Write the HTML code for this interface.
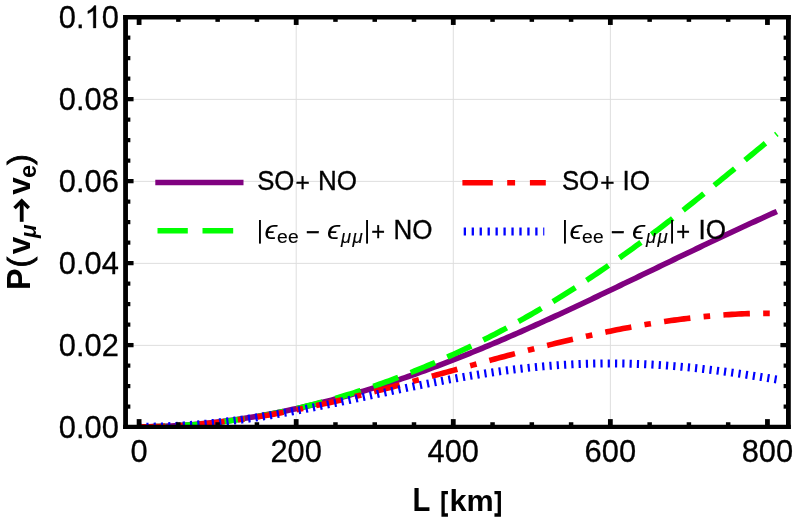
<!DOCTYPE html>
<html><head><meta charset="utf-8"><title>Plot</title>
<style>html,body{margin:0;padding:0;background:#fff}svg{display:block}text{font-family:"Liberation Sans",sans-serif;fill:#000}</style></head>
<body>
<svg width="793" height="518" viewBox="0 0 793 518">
<rect width="793" height="518" fill="#fff"/>
<g style="opacity:0.999">
<defs><clipPath id="cp"><rect x="125.56" y="17.28" width="662.8399999999999" height="409.52"/></clipPath></defs>
<g stroke="#dedede" stroke-width="1" fill="none">
<line x1="296.19" y1="17.28" x2="296.19" y2="426.8"/>
<line x1="453.28" y1="17.28" x2="453.28" y2="426.8"/>
<line x1="610.36" y1="17.28" x2="610.36" y2="426.8"/>
<line x1="125.56" y1="345.36" x2="788.4" y2="345.36"/>
<line x1="125.56" y1="263.37" x2="788.4" y2="263.37"/>
<line x1="125.56" y1="181.38" x2="788.4" y2="181.38"/>
<line x1="125.56" y1="99.39" x2="788.4" y2="99.39"/>
</g>
<g clip-path="url(#cp)" fill="none" stroke-linejoin="round">
<path d="M139.10,426.80 L142.30,426.79 L145.51,426.77 L148.71,426.72 L151.92,426.67 L155.12,426.59 L158.33,426.50 L161.53,426.39 L164.74,426.27 L167.94,426.13 L171.15,425.98 L174.35,425.81 L177.56,425.62 L180.76,425.42 L183.97,425.20 L187.17,424.97 L190.38,424.72 L193.58,424.46 L196.79,424.19 L199.99,423.89 L203.20,423.59 L206.40,423.27 L209.61,422.93 L212.81,422.58 L216.02,422.22 L219.22,421.84 L222.43,421.45 L225.63,421.04 L228.84,420.62 L232.04,420.19 L235.25,419.74 L238.45,419.27 L241.66,418.80 L244.86,418.31 L248.07,417.80 L251.27,417.29 L254.48,416.76 L257.68,416.21 L260.89,415.65 L264.09,415.08 L267.30,414.50 L270.50,413.90 L273.71,413.29 L276.91,412.66 L280.12,412.03 L283.32,411.38 L286.53,410.71 L289.73,410.04 L292.94,409.35 L296.14,408.65 L299.35,407.93 L302.55,407.21 L305.76,406.47 L308.96,405.72 L312.17,404.95 L315.37,404.17 L318.58,403.38 L321.78,402.58 L324.98,401.77 L328.19,400.94 L331.39,400.10 L334.60,399.25 L337.80,398.39 L341.01,397.52 L344.21,396.63 L347.42,395.73 L350.62,394.82 L353.83,393.90 L357.03,392.97 L360.24,392.02 L363.44,391.06 L366.65,390.10 L369.85,389.12 L373.06,388.13 L376.26,387.12 L379.47,386.11 L382.67,385.09 L385.88,384.05 L389.08,383.01 L392.29,381.95 L395.49,380.88 L398.70,379.80 L401.90,378.71 L405.11,377.61 L408.31,376.50 L411.52,375.38 L414.72,374.25 L417.93,373.11 L421.13,371.96 L424.34,370.80 L427.54,369.63 L430.75,368.45 L433.95,367.25 L437.16,366.05 L440.36,364.84 L443.57,363.62 L446.77,362.40 L449.98,361.16 L453.18,359.91 L456.39,358.65 L459.59,357.39 L462.80,356.12 L466.00,354.83 L469.21,353.54 L472.41,352.24 L475.62,350.94 L478.82,349.62 L482.03,348.29 L485.23,346.96 L488.44,345.62 L491.64,344.28 L494.85,342.92 L498.05,341.56 L501.25,340.19 L504.46,338.81 L507.66,337.43 L510.87,336.03 L514.07,334.64 L517.28,333.23 L520.48,331.82 L523.69,330.40 L526.89,328.98 L530.10,327.55 L533.30,326.11 L536.51,324.67 L539.71,323.22 L542.92,321.77 L546.12,320.31 L549.33,318.85 L552.53,317.38 L555.74,315.90 L558.94,314.43 L562.15,312.94 L565.35,311.46 L568.56,309.96 L571.76,308.47 L574.97,306.97 L578.17,305.46 L581.38,303.96 L584.58,302.45 L587.79,300.93 L590.99,299.41 L594.20,297.89 L597.40,296.37 L600.61,294.84 L603.81,293.32 L607.02,291.79 L610.22,290.25 L613.43,288.72 L616.63,287.18 L619.84,285.64 L623.04,284.10 L626.25,282.56 L629.45,281.02 L632.66,279.47 L635.86,277.93 L639.07,276.38 L642.27,274.84 L645.48,273.29 L648.68,271.75 L651.89,270.20 L655.09,268.65 L658.30,267.11 L661.50,265.56 L664.71,264.02 L667.91,262.47 L671.12,260.93 L674.32,259.38 L677.53,257.84 L680.73,256.30 L683.93,254.77 L687.14,253.23 L690.34,251.69 L693.55,250.16 L696.75,248.63 L699.96,247.10 L703.16,245.58 L706.37,244.05 L709.57,242.53 L712.78,241.02 L715.98,239.50 L719.19,237.99 L722.39,236.48 L725.60,234.98 L728.80,233.47 L732.01,231.98 L735.21,230.48 L738.42,228.99 L741.62,227.50 L744.83,226.02 L748.03,224.54 L751.24,223.07 L754.44,221.60 L757.65,220.14 L760.85,218.68 L764.06,217.22 L767.26,215.77 L770.47,214.32 L773.67,212.88 L776.88,211.45" stroke="#800080" stroke-width="5.6"/>
<path d="M139.10,426.80 L142.30,426.79 L145.51,426.77 L148.71,426.74 L151.92,426.69 L155.12,426.62 L158.33,426.54 L161.53,426.45 L164.74,426.34 L167.94,426.22 L171.15,426.08 L174.35,425.93 L177.56,425.76 L180.76,425.57 L183.97,425.37 L187.17,425.16 L190.38,424.93 L193.58,424.68 L196.79,424.42 L199.99,424.15 L203.20,423.86 L206.40,423.55 L209.61,423.23 L212.81,422.89 L216.02,422.53 L219.22,422.16 L222.43,421.78 L225.63,421.38 L228.84,420.96 L232.04,420.53 L235.25,420.08 L238.45,419.62 L241.66,419.14 L244.86,418.64 L248.07,418.13 L251.27,417.61 L254.48,417.07 L257.68,416.51 L260.89,415.94 L264.09,415.35 L267.30,414.75 L270.50,414.13 L273.71,413.50 L276.91,412.85 L280.12,412.19 L283.32,411.51 L286.53,410.82 L289.73,410.11 L292.94,409.38 L296.14,408.65 L299.35,407.89 L302.55,407.12 L305.76,406.34 L308.96,405.54 L312.17,404.73 L315.37,403.90 L318.58,403.05 L321.78,402.19 L324.98,401.32 L328.19,400.43 L331.39,399.53 L334.60,398.61 L337.80,397.68 L341.01,396.73 L344.21,395.77 L347.42,394.80 L350.62,393.81 L353.83,392.80 L357.03,391.78 L360.24,390.75 L363.44,389.70 L366.65,388.64 L369.85,387.56 L373.06,386.47 L376.26,385.36 L379.47,384.24 L382.67,383.10 L385.88,381.95 L389.08,380.79 L392.29,379.61 L395.49,378.42 L398.70,377.21 L401.90,375.99 L405.11,374.75 L408.31,373.50 L411.52,372.23 L414.72,370.95 L417.93,369.66 L421.13,368.35 L424.34,367.02 L427.54,365.68 L430.75,364.33 L433.95,362.96 L437.16,361.58 L440.36,360.18 L443.57,358.77 L446.77,357.34 L449.98,355.90 L453.18,354.44 L456.39,352.97 L459.59,351.49 L462.80,349.99 L466.00,348.47 L469.21,346.94 L472.41,345.39 L475.62,343.83 L478.82,342.26 L482.03,340.66 L485.23,339.06 L488.44,337.44 L491.64,335.80 L494.85,334.15 L498.05,332.48 L501.25,330.80 L504.46,329.10 L507.66,327.39 L510.87,325.66 L514.07,323.91 L517.28,322.15 L520.48,320.38 L523.69,318.59 L526.89,316.78 L530.10,314.96 L533.30,313.12 L536.51,311.27 L539.71,309.40 L542.92,307.51 L546.12,305.61 L549.33,303.70 L552.53,301.77 L555.74,299.82 L558.94,297.85 L562.15,295.88 L565.35,293.88 L568.56,291.87 L571.76,289.85 L574.97,287.80 L578.17,285.75 L581.38,283.67 L584.58,281.58 L587.79,279.48 L590.99,277.36 L594.20,275.23 L597.40,273.08 L600.61,270.91 L603.81,268.73 L607.02,266.53 L610.22,264.32 L613.43,262.09 L616.63,259.85 L619.84,257.60 L623.04,255.33 L626.25,253.04 L629.45,250.74 L632.66,248.43 L635.86,246.10 L639.07,243.75 L642.27,241.40 L645.48,239.03 L648.68,236.64 L651.89,234.25 L655.09,231.84 L658.30,229.41 L661.50,226.98 L664.71,224.53 L667.91,222.07 L671.12,219.60 L674.32,217.11 L677.53,214.62 L680.73,212.11 L683.93,209.59 L687.14,207.06 L690.34,204.53 L693.55,201.98 L696.75,199.42 L699.96,196.86 L703.16,194.28 L706.37,191.70 L709.57,189.11 L712.78,186.51 L715.98,183.91 L719.19,181.30 L722.39,178.68 L725.60,176.06 L728.80,173.43 L732.01,170.80 L735.21,168.17 L738.42,165.53 L741.62,162.89 L744.83,160.25 L748.03,157.61 L751.24,154.97 L754.44,152.33 L757.65,149.69 L760.85,147.05 L764.06,144.41 L767.26,141.78 L770.47,139.15 L773.67,136.53 L776.88,133.91" stroke="#00ff00" stroke-width="5.6" stroke-dasharray="26.5 13.3"/>
<path d="M139.10,426.80 L142.30,426.79 L145.51,426.77 L148.71,426.73 L151.92,426.68 L155.12,426.61 L158.33,426.53 L161.53,426.43 L164.74,426.32 L167.94,426.19 L171.15,426.05 L174.35,425.89 L177.56,425.72 L180.76,425.54 L183.97,425.34 L187.17,425.12 L190.38,424.89 L193.58,424.64 L196.79,424.38 L199.99,424.11 L203.20,423.82 L206.40,423.52 L209.61,423.20 L212.81,422.87 L216.02,422.53 L219.22,422.17 L222.43,421.80 L225.63,421.42 L228.84,421.02 L232.04,420.61 L235.25,420.18 L238.45,419.75 L241.66,419.30 L244.86,418.83 L248.07,418.36 L251.27,417.87 L254.48,417.37 L257.68,416.86 L260.89,416.34 L264.09,415.80 L267.30,415.25 L270.50,414.70 L273.71,414.13 L276.91,413.55 L280.12,412.95 L283.32,412.35 L286.53,411.74 L289.73,411.12 L292.94,410.48 L296.14,409.84 L299.35,409.19 L302.55,408.53 L305.76,407.85 L308.96,407.17 L312.17,406.48 L315.37,405.78 L318.58,405.08 L321.78,404.36 L324.98,403.64 L328.19,402.91 L331.39,402.17 L334.60,401.42 L337.80,400.67 L341.01,399.91 L344.21,399.14 L347.42,398.36 L350.62,397.58 L353.83,396.79 L357.03,396.00 L360.24,395.20 L363.44,394.39 L366.65,393.58 L369.85,392.76 L373.06,391.94 L376.26,391.12 L379.47,390.29 L382.67,389.45 L385.88,388.61 L389.08,387.77 L392.29,386.92 L395.49,386.07 L398.70,385.21 L401.90,384.36 L405.11,383.49 L408.31,382.63 L411.52,381.77 L414.72,380.90 L417.93,380.03 L421.13,379.15 L424.34,378.28 L427.54,377.40 L430.75,376.53 L433.95,375.65 L437.16,374.77 L440.36,373.89 L443.57,373.01 L446.77,372.13 L449.98,371.24 L453.18,370.36 L456.39,369.48 L459.59,368.60 L462.80,367.72 L466.00,366.84 L469.21,365.97 L472.41,365.09 L475.62,364.21 L478.82,363.34 L482.03,362.47 L485.23,361.60 L488.44,360.73 L491.64,359.87 L494.85,359.00 L498.05,358.14 L501.25,357.29 L504.46,356.43 L507.66,355.58 L510.87,354.73 L514.07,353.89 L517.28,353.05 L520.48,352.22 L523.69,351.38 L526.89,350.56 L530.10,349.73 L533.30,348.92 L536.51,348.10 L539.71,347.30 L542.92,346.49 L546.12,345.69 L549.33,344.90 L552.53,344.12 L555.74,343.34 L558.94,342.56 L562.15,341.79 L565.35,341.03 L568.56,340.28 L571.76,339.53 L574.97,338.79 L578.17,338.05 L581.38,337.33 L584.58,336.61 L587.79,335.90 L590.99,335.19 L594.20,334.50 L597.40,333.81 L600.61,333.13 L603.81,332.46 L607.02,331.79 L610.22,331.14 L613.43,330.49 L616.63,329.86 L619.84,329.23 L623.04,328.61 L626.25,328.00 L629.45,327.40 L632.66,326.82 L635.86,326.24 L639.07,325.67 L642.27,325.11 L645.48,324.56 L648.68,324.03 L651.89,323.50 L655.09,322.99 L658.30,322.48 L661.50,321.99 L664.71,321.51 L667.91,321.04 L671.12,320.58 L674.32,320.14 L677.53,319.70 L680.73,319.28 L683.93,318.88 L687.14,318.48 L690.34,318.10 L693.55,317.73 L696.75,317.37 L699.96,317.03 L703.16,316.70 L706.37,316.39 L709.57,316.09 L712.78,315.80 L715.98,315.53 L719.19,315.27 L722.39,315.03 L725.60,314.81 L728.80,314.60 L732.01,314.40 L735.21,314.22 L738.42,314.06 L741.62,313.91 L744.83,313.78 L748.03,313.66 L751.24,313.57 L754.44,313.49 L757.65,313.42 L760.85,313.38 L764.06,313.35 L767.26,313.34 L770.47,313.35 L773.67,313.38 L776.88,313.43" stroke="#ff0000" stroke-width="5.6" stroke-dasharray="26.5 13.3 6.6 13.3" stroke-dashoffset="0.5"/>
<path d="M139.10,426.80 L142.30,426.79 L145.51,426.77 L148.71,426.74 L151.92,426.69 L155.12,426.62 L158.33,426.54 L161.53,426.45 L164.74,426.34 L167.94,426.22 L171.15,426.09 L174.35,425.94 L177.56,425.77 L180.76,425.59 L183.97,425.40 L187.17,425.19 L190.38,424.97 L193.58,424.73 L196.79,424.48 L199.99,424.22 L203.20,423.94 L206.40,423.65 L209.61,423.35 L212.81,423.03 L216.02,422.70 L219.22,422.35 L222.43,421.99 L225.63,421.62 L228.84,421.24 L232.04,420.85 L235.25,420.44 L238.45,420.02 L241.66,419.59 L244.86,419.15 L248.07,418.69 L251.27,418.23 L254.48,417.75 L257.68,417.26 L260.89,416.77 L264.09,416.26 L267.30,415.74 L270.50,415.21 L273.71,414.68 L276.91,414.13 L280.12,413.58 L283.32,413.01 L286.53,412.44 L289.73,411.86 L292.94,411.28 L296.14,410.68 L299.35,410.08 L302.55,409.47 L305.76,408.86 L308.96,408.23 L312.17,407.61 L315.37,406.97 L318.58,406.33 L321.78,405.69 L324.98,405.04 L328.19,404.39 L331.39,403.73 L334.60,403.07 L337.80,402.41 L341.01,401.74 L344.21,401.07 L347.42,400.40 L350.62,399.72 L353.83,399.04 L357.03,398.36 L360.24,397.68 L363.44,397.00 L366.65,396.32 L369.85,395.64 L373.06,394.96 L376.26,394.28 L379.47,393.59 L382.67,392.91 L385.88,392.24 L389.08,391.56 L392.29,390.88 L395.49,390.21 L398.70,389.54 L401.90,388.87 L405.11,388.21 L408.31,387.54 L411.52,386.89 L414.72,386.23 L417.93,385.58 L421.13,384.94 L424.34,384.30 L427.54,383.66 L430.75,383.04 L433.95,382.41 L437.16,381.79 L440.36,381.18 L443.57,380.58 L446.77,379.98 L449.98,379.39 L453.18,378.81 L456.39,378.23 L459.59,377.66 L462.80,377.10 L466.00,376.55 L469.21,376.01 L472.41,375.48 L475.62,374.95 L478.82,374.43 L482.03,373.93 L485.23,373.43 L488.44,372.95 L491.64,372.47 L494.85,372.00 L498.05,371.55 L501.25,371.10 L504.46,370.67 L507.66,370.25 L510.87,369.84 L514.07,369.44 L517.28,369.05 L520.48,368.67 L523.69,368.31 L526.89,367.96 L530.10,367.62 L533.30,367.29 L536.51,366.97 L539.71,366.67 L542.92,366.38 L546.12,366.10 L549.33,365.84 L552.53,365.59 L555.74,365.35 L558.94,365.13 L562.15,364.92 L565.35,364.72 L568.56,364.54 L571.76,364.37 L574.97,364.21 L578.17,364.07 L581.38,363.94 L584.58,363.82 L587.79,363.72 L590.99,363.63 L594.20,363.56 L597.40,363.50 L600.61,363.45 L603.81,363.42 L607.02,363.40 L610.22,363.40 L613.43,363.41 L616.63,363.43 L619.84,363.47 L623.04,363.52 L626.25,363.58 L629.45,363.66 L632.66,363.75 L635.86,363.85 L639.07,363.97 L642.27,364.10 L645.48,364.25 L648.68,364.41 L651.89,364.58 L655.09,364.76 L658.30,364.96 L661.50,365.17 L664.71,365.39 L667.91,365.62 L671.12,365.87 L674.32,366.13 L677.53,366.40 L680.73,366.68 L683.93,366.98 L687.14,367.28 L690.34,367.60 L693.55,367.93 L696.75,368.27 L699.96,368.61 L703.16,368.97 L706.37,369.34 L709.57,369.72 L712.78,370.11 L715.98,370.51 L719.19,370.92 L722.39,371.34 L725.60,371.76 L728.80,372.20 L732.01,372.64 L735.21,373.09 L738.42,373.55 L741.62,374.01 L744.83,374.48 L748.03,374.96 L751.24,375.45 L754.44,375.94 L757.65,376.44 L760.85,376.94 L764.06,377.45 L767.26,377.96 L770.47,378.48 L773.67,379.00 L776.88,379.52" stroke="#0000ff" stroke-width="8" stroke-dasharray="2.2 5.09"/>
</g>
<path d="M125.56,15.105V428.975M788.4,15.105V428.975" stroke="#000" stroke-width="4.8" fill="none"/>
<path d="M123.16,17.28H790.8M123.16,426.8H790.8" stroke="#000" stroke-width="4.35" fill="none"/>
<g stroke="#000" fill="none">
<line x1="139.10" y1="425.625" x2="139.10" y2="419.12" stroke-width="4.8"/>
<line x1="139.10" y1="18.455000000000002" x2="139.10" y2="24.96" stroke-width="4.8"/>
<line x1="178.37" y1="425.625" x2="178.37" y2="422.23" stroke-width="4.5"/>
<line x1="178.37" y1="18.455000000000002" x2="178.37" y2="21.86" stroke-width="4.5"/>
<line x1="217.64" y1="425.625" x2="217.64" y2="422.23" stroke-width="4.5"/>
<line x1="217.64" y1="18.455000000000002" x2="217.64" y2="21.86" stroke-width="4.5"/>
<line x1="256.92" y1="425.625" x2="256.92" y2="422.23" stroke-width="4.5"/>
<line x1="256.92" y1="18.455000000000002" x2="256.92" y2="21.86" stroke-width="4.5"/>
<line x1="296.19" y1="425.625" x2="296.19" y2="419.12" stroke-width="4.8"/>
<line x1="296.19" y1="18.455000000000002" x2="296.19" y2="24.96" stroke-width="4.8"/>
<line x1="335.46" y1="425.625" x2="335.46" y2="422.23" stroke-width="4.5"/>
<line x1="335.46" y1="18.455000000000002" x2="335.46" y2="21.86" stroke-width="4.5"/>
<line x1="374.73" y1="425.625" x2="374.73" y2="422.23" stroke-width="4.5"/>
<line x1="374.73" y1="18.455000000000002" x2="374.73" y2="21.86" stroke-width="4.5"/>
<line x1="414.00" y1="425.625" x2="414.00" y2="422.23" stroke-width="4.5"/>
<line x1="414.00" y1="18.455000000000002" x2="414.00" y2="21.86" stroke-width="4.5"/>
<line x1="453.28" y1="425.625" x2="453.28" y2="419.12" stroke-width="4.8"/>
<line x1="453.28" y1="18.455000000000002" x2="453.28" y2="24.96" stroke-width="4.8"/>
<line x1="492.55" y1="425.625" x2="492.55" y2="422.23" stroke-width="4.5"/>
<line x1="492.55" y1="18.455000000000002" x2="492.55" y2="21.86" stroke-width="4.5"/>
<line x1="531.82" y1="425.625" x2="531.82" y2="422.23" stroke-width="4.5"/>
<line x1="531.82" y1="18.455000000000002" x2="531.82" y2="21.86" stroke-width="4.5"/>
<line x1="571.09" y1="425.625" x2="571.09" y2="422.23" stroke-width="4.5"/>
<line x1="571.09" y1="18.455000000000002" x2="571.09" y2="21.86" stroke-width="4.5"/>
<line x1="610.36" y1="425.625" x2="610.36" y2="419.12" stroke-width="4.8"/>
<line x1="610.36" y1="18.455000000000002" x2="610.36" y2="24.96" stroke-width="4.8"/>
<line x1="649.64" y1="425.625" x2="649.64" y2="422.23" stroke-width="4.5"/>
<line x1="649.64" y1="18.455000000000002" x2="649.64" y2="21.86" stroke-width="4.5"/>
<line x1="688.91" y1="425.625" x2="688.91" y2="422.23" stroke-width="4.5"/>
<line x1="688.91" y1="18.455000000000002" x2="688.91" y2="21.86" stroke-width="4.5"/>
<line x1="728.18" y1="425.625" x2="728.18" y2="422.23" stroke-width="4.5"/>
<line x1="728.18" y1="18.455000000000002" x2="728.18" y2="21.86" stroke-width="4.5"/>
<line x1="767.45" y1="425.625" x2="767.45" y2="419.12" stroke-width="4.8"/>
<line x1="767.45" y1="18.455000000000002" x2="767.45" y2="24.96" stroke-width="4.8"/>
<line x1="126.96000000000001" y1="406.60" x2="130.36" y2="406.60" stroke-width="4.2"/>
<line x1="787.0" y1="406.60" x2="783.60" y2="406.60" stroke-width="4.2"/>
<line x1="126.96000000000001" y1="386.11" x2="130.36" y2="386.11" stroke-width="4.2"/>
<line x1="787.0" y1="386.11" x2="783.60" y2="386.11" stroke-width="4.2"/>
<line x1="126.96000000000001" y1="365.61" x2="130.36" y2="365.61" stroke-width="4.2"/>
<line x1="787.0" y1="365.61" x2="783.60" y2="365.61" stroke-width="4.2"/>
<line x1="126.96000000000001" y1="345.11" x2="133.56" y2="345.11" stroke-width="4.3"/>
<line x1="787.0" y1="345.11" x2="780.40" y2="345.11" stroke-width="4.3"/>
<line x1="126.96000000000001" y1="324.61" x2="130.36" y2="324.61" stroke-width="4.2"/>
<line x1="787.0" y1="324.61" x2="783.60" y2="324.61" stroke-width="4.2"/>
<line x1="126.96000000000001" y1="304.12" x2="130.36" y2="304.12" stroke-width="4.2"/>
<line x1="787.0" y1="304.12" x2="783.60" y2="304.12" stroke-width="4.2"/>
<line x1="126.96000000000001" y1="283.62" x2="130.36" y2="283.62" stroke-width="4.2"/>
<line x1="787.0" y1="283.62" x2="783.60" y2="283.62" stroke-width="4.2"/>
<line x1="126.96000000000001" y1="263.12" x2="133.56" y2="263.12" stroke-width="4.3"/>
<line x1="787.0" y1="263.12" x2="780.40" y2="263.12" stroke-width="4.3"/>
<line x1="126.96000000000001" y1="242.62" x2="130.36" y2="242.62" stroke-width="4.2"/>
<line x1="787.0" y1="242.62" x2="783.60" y2="242.62" stroke-width="4.2"/>
<line x1="126.96000000000001" y1="222.12" x2="130.36" y2="222.12" stroke-width="4.2"/>
<line x1="787.0" y1="222.12" x2="783.60" y2="222.12" stroke-width="4.2"/>
<line x1="126.96000000000001" y1="201.63" x2="130.36" y2="201.63" stroke-width="4.2"/>
<line x1="787.0" y1="201.63" x2="783.60" y2="201.63" stroke-width="4.2"/>
<line x1="126.96000000000001" y1="181.13" x2="133.56" y2="181.13" stroke-width="4.3"/>
<line x1="787.0" y1="181.13" x2="780.40" y2="181.13" stroke-width="4.3"/>
<line x1="126.96000000000001" y1="160.63" x2="130.36" y2="160.63" stroke-width="4.2"/>
<line x1="787.0" y1="160.63" x2="783.60" y2="160.63" stroke-width="4.2"/>
<line x1="126.96000000000001" y1="140.13" x2="130.36" y2="140.13" stroke-width="4.2"/>
<line x1="787.0" y1="140.13" x2="783.60" y2="140.13" stroke-width="4.2"/>
<line x1="126.96000000000001" y1="119.64" x2="130.36" y2="119.64" stroke-width="4.2"/>
<line x1="787.0" y1="119.64" x2="783.60" y2="119.64" stroke-width="4.2"/>
<line x1="126.96000000000001" y1="99.14" x2="133.56" y2="99.14" stroke-width="4.3"/>
<line x1="787.0" y1="99.14" x2="780.40" y2="99.14" stroke-width="4.3"/>
<line x1="126.96000000000001" y1="78.64" x2="130.36" y2="78.64" stroke-width="4.2"/>
<line x1="787.0" y1="78.64" x2="783.60" y2="78.64" stroke-width="4.2"/>
<line x1="126.96000000000001" y1="58.15" x2="130.36" y2="58.15" stroke-width="4.2"/>
<line x1="787.0" y1="58.15" x2="783.60" y2="58.15" stroke-width="4.2"/>
<line x1="126.96000000000001" y1="37.65" x2="130.36" y2="37.65" stroke-width="4.2"/>
<line x1="787.0" y1="37.65" x2="783.60" y2="37.65" stroke-width="4.2"/>
</g>
<g font-size="31.5" stroke="#000" stroke-width="0.3">
<text transform="translate(139.10,462) scale(0.98,1.02)" text-anchor="middle">0</text>
<text transform="translate(296.19,462) scale(0.98,1.02)" text-anchor="middle">200</text>
<text transform="translate(453.28,462) scale(0.98,1.02)" text-anchor="middle">400</text>
<text transform="translate(610.36,462) scale(0.98,1.02)" text-anchor="middle">600</text>
<text transform="translate(767.45,462) scale(0.98,1.02)" text-anchor="middle">800</text>
<text transform="translate(118.8,438.00) scale(0.98,1.02)" text-anchor="end">0.00</text>
<text transform="translate(118.8,356.01) scale(0.98,1.02)" text-anchor="end">0.02</text>
<text transform="translate(118.8,274.02) scale(0.98,1.02)" text-anchor="end">0.04</text>
<text transform="translate(118.8,192.03) scale(0.98,1.02)" text-anchor="end">0.06</text>
<text transform="translate(118.8,110.04) scale(0.98,1.02)" text-anchor="end">0.08</text>
<text transform="translate(58.72,28.05) scale(0.98,1.02)">0.</text>
<path transform="translate(84.46,28.05) scale(0.015073,-0.015381)" d="M763,0H583V1147Q518,1085 412.5,1023T223,930V1104Q373,1174.5 485,1274.5T644,1466H763Z" fill="#000" stroke="#000" stroke-width="19.5"/>
<text transform="translate(101.63,28.05) scale(0.98,1.02)">0</text>
</g>
<g>
<text transform="translate(412.49,510.65) scale(0.9279,1.0300)" font-size="31.5" font-weight="bold">L</text>
<path d="M447.95,492.7H443.1V515.0H447.95M494.45,492.7H499.3V515.0H494.45" fill="none" stroke="#000" stroke-width="3.3"/>
<text transform="translate(449.61,510.65) scale(0.9716,0.9500)" font-size="31.5" font-weight="bold">km</text>
</g>
<g transform="rotate(-90)" font-weight="bold">
<g transform="translate(-290.10,29.9) scale(1.03,1.07)"><text x="0" y="0" font-size="31.5">P</text></g>
<text x="-267.40" y="29.90" font-size="31.5" font-weight="normal" stroke="#000" stroke-width="0.9">(</text>
<text x="-254.30" y="29.90" font-size="31.5" >v</text>
<text x="-238.00" y="35.70" font-size="22.5" font-style="italic">μ</text>
<text x="-194.70" y="29.90" font-size="31.5" >v</text>
<text x="-177.90" y="35.90" font-size="23.5" >e</text>
<text x="-164.80" y="29.90" font-size="31.5" font-weight="normal" stroke="#000" stroke-width="0.9">)</text>
<path d="M-221.8,21.7H-201.6" stroke="#000" stroke-width="3.8" fill="none"/>
<path d="M-208.1,14.6L-200.9,21.7L-208.1,28.8" stroke="#000" stroke-width="3.5" fill="none" stroke-linejoin="miter"/>
</g>
<g fill="none">
<line x1="155.3" y1="182.5" x2="243.5" y2="182.5" stroke="#800080" stroke-width="5.4"/>
<path d="M157.5,230.7H187.8M202.5,230.7H233.2" stroke="#00ff00" stroke-width="5.4"/>
<path d="M462.4,182.7H492.8M507.2,182.7H515.1M529.9,182.7H545.8" stroke="#ff0000" stroke-width="5.4"/>
<path d="M463.7,231.4H544.3" stroke="#0000ff" stroke-width="8" stroke-dasharray="2.3 5.65"/>
</g>
<g stroke="#000" stroke-width="0.35">
<text transform="translate(257.18,189.90) scale(0.9903,1.0400)" font-size="26">SO</text>
<text transform="translate(295.45,191.30) scale(0.9421,1.0000)" font-size="26">+</text>
<text transform="translate(317.90,189.90) scale(1.0000,1.0400)" font-size="26">NO</text>
<rect x="259.00" y="220.0" width="1.9" height="23.6" fill="#000" stroke="none"/>
<text transform="translate(264.56,238.50) scale(1.1188,1.0000)" font-size="26" font-style="italic" stroke="none">ϵ</text>
<text transform="translate(276.98,243.10) scale(1.0101,1.0000)" font-size="19.2" stroke-width="0.15">e</text>
<text transform="translate(287.99,243.10) scale(0.9990,1.0000)" font-size="19.2" stroke-width="0.15">e</text>
<text transform="translate(305.81,240.70) scale(0.9262,1.0000)" font-size="26">−</text>
<text transform="translate(327.09,238.50) scale(1.1415,1.0000)" font-size="26" font-style="italic" stroke="none">ϵ</text>
<text transform="translate(340.89,243.05) scale(0.9712,1.0000)" font-size="19.0" font-style="italic" stroke-width="0.15">μ</text>
<text transform="translate(352.39,243.05) scale(0.9855,1.0000)" font-size="19.0" font-style="italic" stroke-width="0.15">μ</text>
<rect x="366.10" y="220.0" width="1.9" height="23.6" fill="#000" stroke="none"/>
<text transform="translate(371.14,240.20) scale(0.9104,1.0000)" font-size="26">+</text>
<text transform="translate(393.45,238.50) scale(1.0000,1.0400)" font-size="26">NO</text>
<text transform="translate(561.88,189.90) scale(0.9903,1.0400)" font-size="26">SO</text>
<text transform="translate(600.15,191.30) scale(0.9421,1.0000)" font-size="26">+</text>
<text transform="translate(622.60,189.90) scale(1.0000,1.0400)" font-size="26">IO</text>
<rect x="564.00" y="220.0" width="1.9" height="23.6" fill="#000" stroke="none"/>
<text transform="translate(569.56,238.50) scale(1.1188,1.0000)" font-size="26" font-style="italic" stroke="none">ϵ</text>
<text transform="translate(581.98,243.10) scale(1.0101,1.0000)" font-size="19.2" stroke-width="0.15">e</text>
<text transform="translate(592.99,243.10) scale(0.9990,1.0000)" font-size="19.2" stroke-width="0.15">e</text>
<text transform="translate(610.81,240.70) scale(0.9262,1.0000)" font-size="26">−</text>
<text transform="translate(632.09,238.50) scale(1.1415,1.0000)" font-size="26" font-style="italic" stroke="none">ϵ</text>
<text transform="translate(645.89,243.05) scale(0.9712,1.0000)" font-size="19.0" font-style="italic" stroke-width="0.15">μ</text>
<text transform="translate(657.39,243.05) scale(0.9855,1.0000)" font-size="19.0" font-style="italic" stroke-width="0.15">μ</text>
<rect x="671.10" y="220.0" width="1.9" height="23.6" fill="#000" stroke="none"/>
<text transform="translate(676.14,240.20) scale(0.9104,1.0000)" font-size="26">+</text>
<text transform="translate(698.45,238.50) scale(1.0000,1.0400)" font-size="26">IO</text>
</g>
</g>
</svg></body></html>
